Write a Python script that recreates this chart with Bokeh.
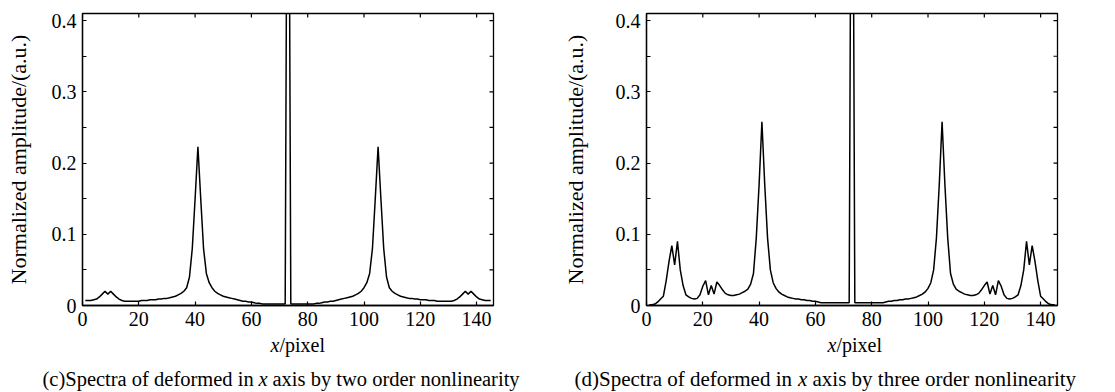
from bokeh.plotting import figure
from bokeh.layouts import row, column
from bokeh.models import Range1d, FixedTicker, Label
from bokeh.embed import file_html
from bokeh.resources import INLINE

# ---------------- data ----------------
pixel = list(range(1, 146))

# (c) two order nonlinearity
amp_c = [
    0.007, 0.007, 0.007, 0.008, 0.009, 0.012, 0.016, 0.020, 0.016, 0.020,
    0.016, 0.012, 0.009, 0.007, 0.006, 0.006, 0.006, 0.006, 0.006, 0.006,
    0.007, 0.007, 0.007, 0.008, 0.008, 0.008, 0.009, 0.009, 0.010, 0.010,
    0.011, 0.012, 0.013, 0.015, 0.017, 0.020, 0.025, 0.040, 0.080, 0.150,
    0.223, 0.150, 0.080, 0.045, 0.032, 0.025, 0.020, 0.017, 0.015, 0.013,
    0.012, 0.011, 0.010, 0.009, 0.008, 0.007, 0.006, 0.006, 0.005, 0.005,
    0.004, 0.003, 0.003, 0.002, 0.002, 0.002, 0.002, 0.002, 0.002, 0.002,
    0.002, 0.002,
    1.000,
    0.002, 0.002,
    0.002, 0.002, 0.002, 0.002, 0.002, 0.002, 0.002, 0.003, 0.003, 0.004,
    0.005, 0.005, 0.006, 0.006, 0.007, 0.008, 0.009, 0.010, 0.011, 0.012,
    0.013, 0.015, 0.017, 0.020, 0.025, 0.032, 0.045, 0.080, 0.150, 0.223,
    0.150, 0.080, 0.040, 0.025, 0.020, 0.017, 0.015, 0.013, 0.012, 0.011,
    0.010, 0.010, 0.009, 0.009, 0.008, 0.008, 0.008, 0.007, 0.007, 0.007,
    0.006, 0.006, 0.006, 0.006, 0.006, 0.006, 0.007, 0.009, 0.012, 0.016,
    0.020, 0.016, 0.020, 0.016, 0.012, 0.009, 0.008, 0.007, 0.007, 0.007,
]

# (d) three order nonlinearity
amp_d = [
    0.001, 0.001, 0.002, 0.005, 0.009, 0.013, 0.035, 0.062, 0.084, 0.057,
    0.090, 0.050, 0.028, 0.015, 0.012, 0.010, 0.009, 0.010, 0.015, 0.027,
    0.035, 0.015, 0.028, 0.016, 0.033, 0.028, 0.022, 0.017, 0.015, 0.014,
    0.014, 0.015, 0.016, 0.018, 0.020, 0.023, 0.030, 0.045, 0.095, 0.170,
    0.258, 0.170, 0.095, 0.050, 0.032, 0.024, 0.019, 0.016, 0.014, 0.012,
    0.011, 0.010, 0.009, 0.009, 0.008, 0.008, 0.007, 0.007, 0.006, 0.006,
    0.005, 0.004, 0.004, 0.004, 0.004, 0.004, 0.004, 0.004, 0.004, 0.004,
    0.004, 0.004,
    1.000,
    0.004, 0.004,
    0.004, 0.004, 0.004, 0.004, 0.004, 0.004, 0.004, 0.004, 0.004, 0.005,
    0.006, 0.006, 0.007, 0.007, 0.008, 0.008, 0.009, 0.009, 0.010, 0.011,
    0.012, 0.014, 0.016, 0.019, 0.024, 0.032, 0.050, 0.095, 0.170, 0.258,
    0.170, 0.095, 0.045, 0.030, 0.023, 0.020, 0.018, 0.016, 0.015, 0.014,
    0.014, 0.015, 0.017, 0.022, 0.028, 0.033, 0.016, 0.028, 0.015, 0.035,
    0.027, 0.015, 0.010, 0.009, 0.010, 0.012, 0.015, 0.028, 0.050, 0.090,
    0.057, 0.084, 0.062, 0.035, 0.013, 0.009, 0.005, 0.002, 0.001, 0.001,
]

x_ticks = [0, 20, 40, 60, 80, 100, 120, 140]
y_ticks = [0, 0.1, 0.2, 0.3, 0.4]
y_minor_ticks = [0.05, 0.15, 0.25, 0.35]
y_tick_labels = {0: "0", 0.1: "0.1", 0.2: "0.2", 0.3: "0.3", 0.4: "0.4"}
y_label = "Normalized amplitude/(a.u.)"
x_label_parts = ("x", "/pixel")
caption_c = ("(c)Spectra of deformed in", "x", "axis by two order nonlinearity")
caption_d = ("(d)Spectra of deformed in", "x", "axis by three order nonlinearity")

X_MAX = 146
Y_MAX = 0.41

FONT = "Liberation Serif"
TICK_SIZE = "20px"
YLABEL_SIZE = "22px"
XLABEL_SIZE = "20px"

W1, W2 = 557, 558
FRAME_W = 411
FRAME_H = 292
TOP = 13
MAIN_H = 335
CAP_H = 392 - MAIN_H
TICK_LEN = 4


def style_axis(ax, ticker):
    ax.ticker = ticker
    ax.axis_line_color = "black"
    ax.axis_line_width = 1.3
    ax.major_tick_line_color = "black"
    ax.major_tick_line_width = 1.2
    ax.minor_tick_line_color = "black"
    ax.minor_tick_line_width = 1.2
    ax.major_tick_in = TICK_LEN
    ax.major_tick_out = 0
    ax.minor_tick_in = TICK_LEN
    ax.minor_tick_out = 0
    ax.major_label_text_font = FONT
    ax.major_label_text_color = "black"
    ax.major_label_text_font_size = TICK_SIZE


def make_panel(amp, width, b_left, ylab_standoff):
    b_right = width - b_left - FRAME_W
    p = figure(width=width, height=MAIN_H,
               x_range=Range1d(0, X_MAX), y_range=Range1d(0, Y_MAX),
               output_backend="svg", toolbar_location=None,
               min_border_left=b_left, min_border_right=b_right,
               min_border_top=TOP, min_border_bottom=MAIN_H - TOP - FRAME_H)
    p.grid.visible = False
    p.outline_line_color = "black"
    p.outline_line_width = 1.3

    style_axis(p.xaxis[0], FixedTicker(ticks=x_ticks, minor_ticks=[]))
    p.xaxis[0].major_label_standoff = 6
    style_axis(p.yaxis[0], FixedTicker(ticks=y_ticks, minor_ticks=y_minor_ticks))
    p.yaxis[0].major_label_standoff = 6
    p.yaxis[0].major_label_overrides = y_tick_labels
    p.yaxis[0].axis_label = y_label
    p.yaxis[0].axis_label_text_font = FONT
    p.yaxis[0].axis_label_text_font_size = YLABEL_SIZE
    p.yaxis[0].axis_label_text_font_style = "normal"
    p.yaxis[0].axis_label_text_color = "black"
    p.yaxis[0].axis_label_standoff = ylab_standoff

    # inward ticks on the top and right edges of the box
    dy = TICK_LEN * Y_MAX / FRAME_H
    dx = TICK_LEN * X_MAX / FRAME_W
    p.segment(x0=x_ticks, y0=[Y_MAX] * len(x_ticks), x1=x_ticks,
              y1=[Y_MAX - dy] * len(x_ticks), line_color="black", line_width=1.2)
    yall = y_ticks + y_minor_ticks
    p.segment(x0=[X_MAX] * len(yall), y0=yall, x1=[X_MAX - dx] * len(yall),
              y1=yall, line_color="black", line_width=1.2)

    p.line(pixel, amp, line_color="black", line_width=1.5)
    return p


def add_texts(c, xlab_left, cap_left, caption, w_first, cap_size, gap):
    ylab = CAP_H - 9
    ycap = CAP_H - 43
    c.add_layout(Label(x=xlab_left, y=ylab, text=x_label_parts[0],
                       text_font=FONT, text_font_style="italic", text_font_size=XLABEL_SIZE,
                       text_align="left", text_baseline="middle", text_color="black"))
    c.add_layout(Label(x=xlab_left + 9, y=ylab, text=x_label_parts[1],
                       text_font=FONT, text_font_size=XLABEL_SIZE,
                       text_align="left", text_baseline="middle", text_color="black"))
    xa = cap_left + w_first + gap
    c.add_layout(Label(x=cap_left, y=ycap, text=caption[0],
                       text_font=FONT, text_font_size=cap_size,
                       text_align="left", text_baseline="middle", text_color="black"))
    c.add_layout(Label(x=xa, y=ycap, text=caption[1],
                       text_font=FONT, text_font_style="italic", text_font_size=cap_size,
                       text_align="left", text_baseline="middle", text_color="black"))
    c.add_layout(Label(x=xa + 9 + gap, y=ycap, text=caption[2],
                       text_font=FONT, text_font_size=cap_size,
                       text_align="left", text_baseline="middle", text_color="black"))


p1 = make_panel(amp_c, W1, 82, 18)
p2 = make_panel(amp_d, W2, 89, 25)

cap = figure(width=W1 + W2, height=CAP_H,
             x_range=Range1d(0, W1 + W2), y_range=Range1d(0, CAP_H),
             output_backend="svg", toolbar_location=None,
             min_border=0, min_border_left=0, min_border_right=0,
             min_border_top=0, min_border_bottom=0,
             x_axis_location=None, y_axis_location=None)
cap.grid.visible = False
cap.outline_line_color = None
add_texts(cap, 270, 42, caption_c, 211, "20.5px", 5)
add_texts(cap, W1 + 270, W1 + 17, caption_d, 218, "21px", 5.5)

layout = column(row(p1, p2), cap)
open("out.html", "w").write(file_html(layout, INLINE))
